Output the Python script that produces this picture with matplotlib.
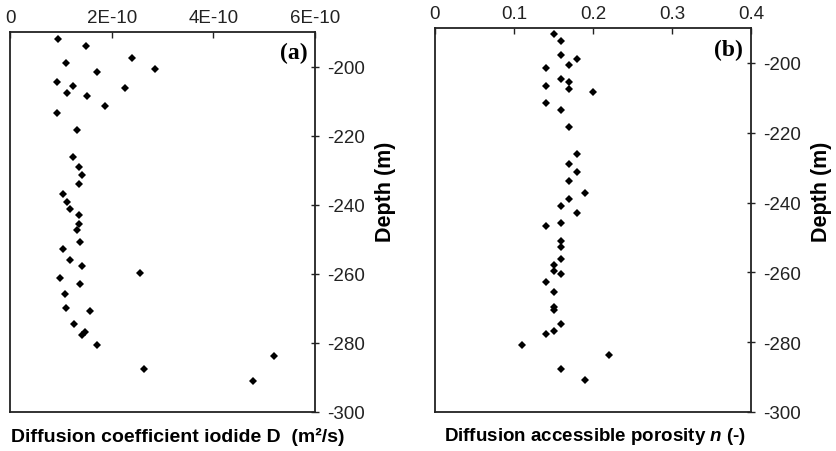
import numpy as np
import matplotlib
matplotlib.use('Agg')
import matplotlib.pyplot as plt

plt.rcParams['font.family'] = ['Liberation Sans', 'DejaVu Sans']
plt.rcParams['mathtext.fontset'] = 'custom'
plt.rcParams['mathtext.it'] = 'Liberation Sans:italic:bold'

# (a) diffusion coefficient iodide D (m2/s) vs depth (m)
depth_a = [-192.0, -194.0, -197.5, -198.9, -200.8, -201.7, -204.4, -205.5, -206.3, -207.8,
           -208.6, -211.4, -213.4, -218.5, -226.3, -229.1, -231.4, -234.1, -237.0, -239.2,
           -241.1, -243.0, -245.7, -247.3, -250.9, -252.8, -256.0, -257.8, -259.8, -261.1,
           -262.9, -265.7, -269.9, -270.9, -274.6, -276.9, -277.7, -280.5, -283.8, -287.6,
           -290.9]
diff_a = [0.95, 1.49, 2.40, 1.10, 2.86, 1.72, 0.92, 1.23, 2.26, 1.13,
          1.51, 1.86, 0.92, 1.32, 1.23, 1.35, 1.41, 1.35, 1.04, 1.13,
          1.19, 1.35, 1.35, 1.32, 1.38, 1.04, 1.19, 1.42, 2.56, 0.98,
          1.38, 1.08, 1.11, 1.57, 1.26, 1.48, 1.42, 1.72, 5.19, 2.64,
          4.79]
diff_a = [v * 1e-10 for v in diff_a]

# (b) diffusion accessible porosity n (-) vs depth (m)
depth_b = [-191.8, -193.7, -197.7, -198.8, -200.6, -201.4, -204.6, -205.5, -207.4, -206.5,
           -208.3, -211.5, -213.4, -218.3, -226.2, -228.9, -231.2, -233.9, -237.2, -239.0,
           -240.9, -243.1, -246.6, -246.0, -250.9, -252.8, -256.1, -257.8, -259.7, -260.6,
           -262.8, -265.6, -269.8, -270.8, -274.9, -276.7, -277.7, -280.8, -283.6, -287.7,
           -290.9]
poro_b = [0.15, 0.16, 0.16, 0.18, 0.17, 0.14, 0.16, 0.17, 0.17, 0.14,
          0.20, 0.14, 0.16, 0.17, 0.18, 0.17, 0.18, 0.17, 0.19, 0.17,
          0.16, 0.18, 0.14, 0.16, 0.16, 0.16, 0.16, 0.15, 0.15, 0.16,
          0.14, 0.15, 0.15, 0.15, 0.16, 0.15, 0.14, 0.11, 0.22, 0.16,
          0.19]

xticks_a = [0, 2e-10, 4e-10, 6e-10]
xlabels_a = ['0', '2E-10', '4E-10', '6E-10']
xticks_b = [0, 0.1, 0.2, 0.3, 0.4]
xlabels_b = ['0', '0.1', '0.2', '0.3', '0.4']
yticks = [-300, -280, -260, -240, -220, -200]

W, H = 837, 452
fig = plt.figure(figsize=(W / 100, H / 100), dpi=100)
ax1 = fig.add_axes([10 / W, 39 / H, 305 / W, 380 / H])
ax2 = fig.add_axes([435 / W, 39 / H, 316 / W, 384 / H])


def style(ax, x, y, xt, xl, xmax, tag):
    ax.plot(x, y, 'D', color='black', ms=3.7, mew=0)
    ax.set_xlim(0, xmax)
    ax.set_ylim(-300, -190)
    ax.set_xticks(xt)
    ax.set_xticklabels(xl)
    ax.set_yticks(yticks)
    ax.set_yticklabels([str(t) for t in yticks])
    ax.xaxis.tick_top()
    ax.yaxis.tick_right()
    ax.tick_params(direction='in', length=4, width=1, labelsize=13.5, colors='#222222',
                   pad=4)
    ax.tick_params(axis='y', direction='inout', length=6, pad=6)
    for s in ax.spines.values():
        s.set_linewidth(1.3)
        s.set_color('#222222')
    ax.text(0.975, 0.945, tag, transform=ax.transAxes, ha='right', va='center',
            fontsize=17, fontweight='bold', family='Liberation Serif')


style(ax1, diff_a, depth_a, xticks_a, xlabels_a, 6e-10, '(a)')
style(ax2, poro_b, depth_b, xticks_b, xlabels_b, 0.4, '(b)')

fig.text(178 / W, 1 - 437 / H, 'Diffusion coefficient iodide D  (m\u00b2/s)',
         ha='center', va='center', fontsize=14, fontweight='bold')
fig.text(595 / W, 1 - 437 / H, 'Diffusion accessible porosity $\\mathit{n}$ (-)',
         ha='center', va='center', fontsize=13.5, fontweight='bold')
fig.text(386 / W, 1 - 192 / H, 'Depth (m)', rotation=90, ha='center', va='center',
         fontsize=15.5, fontweight='bold')
fig.text(822 / W, 1 - 192 / H, 'Depth (m)', rotation=90, ha='center', va='center',
         fontsize=15.5, fontweight='bold')

fig.savefig('out.png', dpi=100)
